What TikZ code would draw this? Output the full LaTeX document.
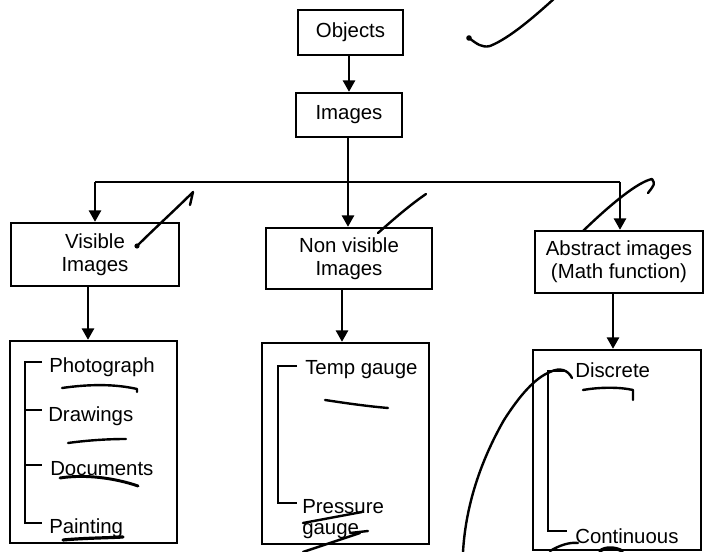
\documentclass[tikz,border=0pt]{standalone}
\usepackage{fontspec}
\setmainfont{Liberation Sans}
\usetikzlibrary{arrows.meta,calc}
\newcommand\dlabelfont{\fontsize{15.3}{17.5}\selectfont}
\begin{document}
\begin{tikzpicture}[x=0.75pt,y=-0.75pt,
  box/.style={draw,line width=1.8pt,inner sep=0pt,align=center,font=\dlabelfont},
  arr/.style={line width=1.8pt,-{Triangle[length=8.5pt,width=9pt]}},
  conn/.style={line width=1.8pt},
  item/.style={anchor=base west,inner sep=0pt,font=\dlabelfont},
  brk/.style={line width=1.8pt},
  pen/.style={line width=1.8pt,line cap=round,line join=round}]
\useasboundingbox[fill=white] (0,0) rectangle (704,552);

% main boxes
\node[box,minimum width=78.75pt,minimum height=33.75pt] (obj) at (350.5,32.5) {Objects};
\node[box,minimum width=79.5pt,minimum height=33pt] (img) at (349,115) {Images};
\node[box,minimum width=126pt,minimum height=47.25pt] (vis) at (95,254.5) {Visible\\Images};
\node[box,minimum width=124.5pt,minimum height=45.75pt] (nvis) at (349,258.5) {Non visible\\Images};
\node[box,minimum width=126pt,minimum height=46.5pt] (abs) at (619,262) {Abstract images\\(Math function)};

% list boxes
\node[box,minimum width=125.25pt,minimum height=151.5pt] (lvis) at (93.5,442) {};
\node[box,minimum width=125.25pt,minimum height=150.75pt] (lnvis) at (345.5,443.5) {};
\node[box,minimum width=126pt,minimum height=150pt] (labs) at (617,450) {};

% connectors
\coordinate (busL) at (95,182);
\coordinate (busM) at (348,182);
\coordinate (busR) at (620,182);
\coordinate (dl) at (88,0);
\coordinate (dm) at (342,0);
\coordinate (dr) at (613,0);
\draw[arr] (obj.south -| img.south) -- (img.north);
\draw[conn] (img.south -| busM) -- (busM);
\draw[conn] (busL) -- (busR);
\draw[arr] (busL) -- (vis.north -| busL);
\draw[arr] (busM) -- (nvis.north -| busM);
\draw[arr] (busR) -- (abs.north -| busR);
\draw[arr] (vis.south -| dl) -- (lvis.north -| dl);
\draw[arr] (nvis.south -| dm) -- (lnvis.north -| dm);
\draw[arr] (abs.south -| dr) -- (labs.north -| dr);

% left list
\node[item] (ph) at (49,373) {Photograph};
\node[item] (drw) at (48,421.5) {Drawings};
\node[item] (doc) at (50,475) {Documents};
\node[item] (pai) at (49,533) {Painting};
\draw[brk] (42,362) -- (25,362) -- (25,523) -- (42,523);
\draw[brk] (25,410) -- (42,410);
\draw[brk] (25,465) -- (42,465);

% middle list
\node[item] (tg) at (305,375) {Temp gauge};
\node[item] (pr) at (302,513) {Pressure};
\node[item] (pg) at (302,534) {gauge};
\draw[brk] (297,366) -- (278,366) -- (278,503) -- (297,503);

% right list
\node[item] (dis) at (575,378) {Discrete};
\node[item] (con) at (575,543) {Continuous};
\draw[brk] (566,371) -- (548,371) -- (548,531) -- (567,531);

% handwritten pen marks
\draw[pen] (469,38) .. controls (477,44) and (482,48) .. (490,46) .. controls (510,38) and (535,16) .. (556,-3);
\fill (469,38) circle (2.8);
\draw[pen] (137,246) .. controls (155,228) and (175,210) .. (193,192) -- (190,205);
\fill (137,246) circle (2.6);
\draw[pen] (378,233) .. controls (395,218) and (410,205) .. (426,194);
\draw[pen] (583,231) .. controls (612,203) and (638,182) .. (652,179) .. controls (655,184) .. (648,193);
\draw[pen] (62,388) .. controls (90,384) and (115,384) .. (137,389) -- (137,392);
\draw[pen] (68,443) .. controls (90,440) and (110,439) .. (126,439);
\draw[pen,line width=2.2pt] (60,478) .. controls (85,474) and (115,478) .. (138,486);
\draw[pen,line width=2.4pt] (63,540) .. controls (85,538) and (105,538) .. (123,537);
\draw[pen] (325,400) .. controls (345,403) and (365,406) .. (388,408);
\draw[pen] (303,523) -- (362,512);
\draw[pen] (350,533) -- (368,531);
\draw[pen] (303,552) -- (360,533);
\draw[pen] (504,420) .. controls (484,455) and (466,500) .. (463,552);
\draw[pen] (504,420) .. controls (520,395) and (535,378) .. (550,372) .. controls (560,367) and (568,370) .. (572,378);
\draw[pen] (583,390) .. controls (600,387) and (620,387) .. (633,390) -- (633,400);
\draw[pen] (550,551) .. controls (560,545) and (570,542) .. (578,543);
\draw[pen,line width=2.6pt] (600,551) .. controls (605,547) and (615,547) .. (622,551);
\end{tikzpicture}
\end{document}
